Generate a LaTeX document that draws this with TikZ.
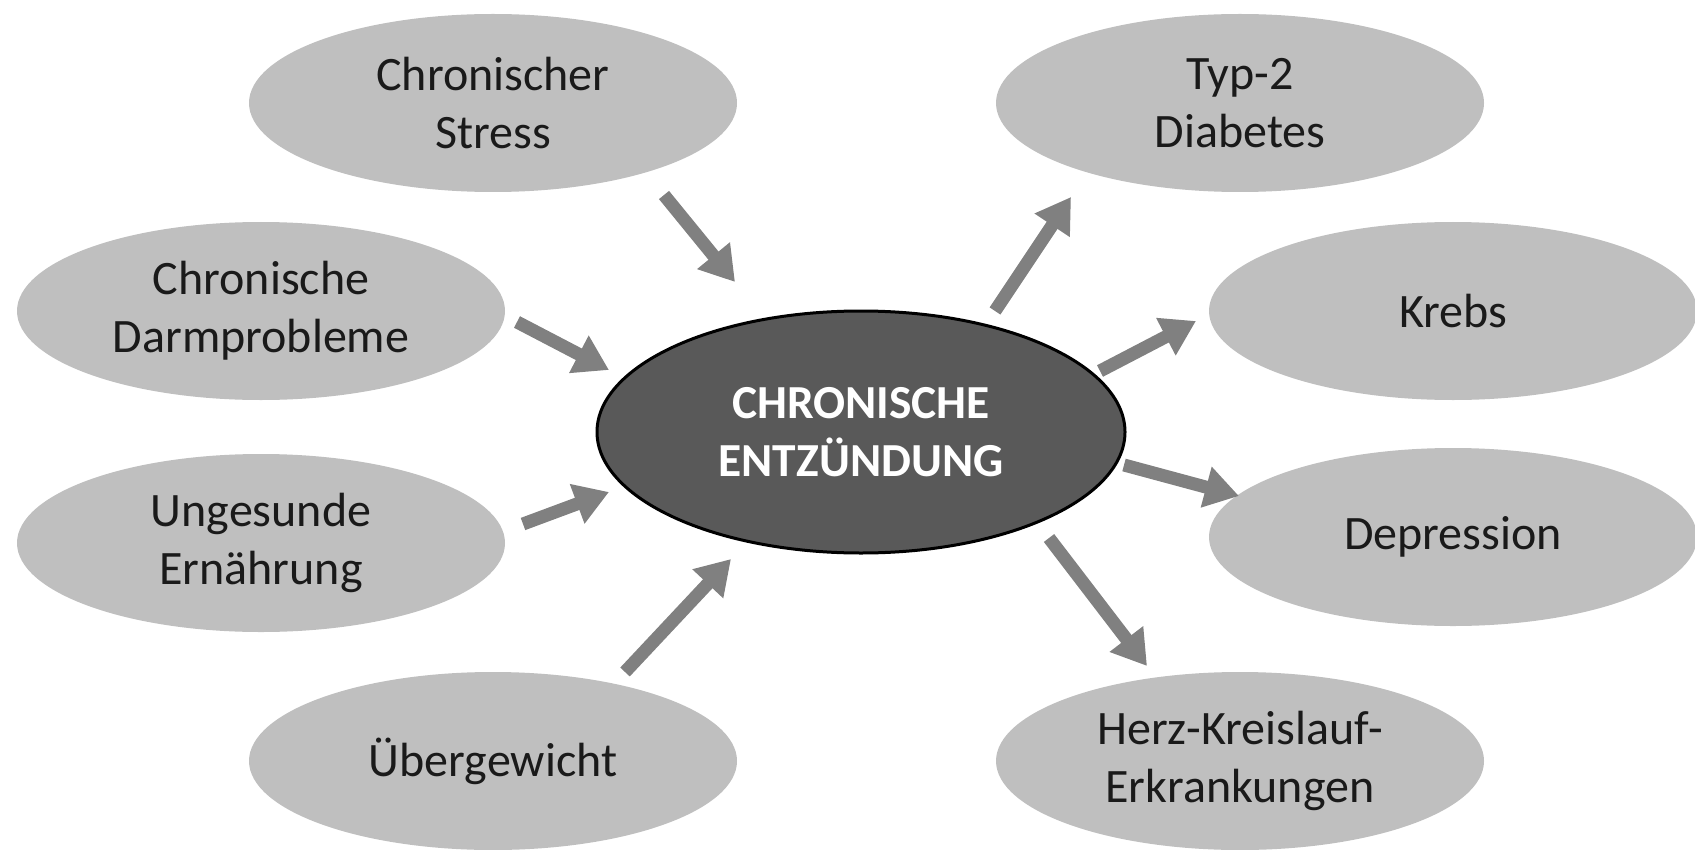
\documentclass[tikz,border=0pt]{standalone}
\usepackage{fontspec}
\setmainfont{Carlito}
\usetikzlibrary{shapes.geometric,arrows.meta}
\definecolor{bubble}{HTML}{BFBFBF}
\definecolor{core}{HTML}{595959}
\definecolor{arrowgray}{HTML}{808080}
\definecolor{txt}{HTML}{1A1A1A}
\tikzset{
  cause/.style={ellipse, fill=bubble, draw=none, minimum width=244pt, minimum height=89pt, inner sep=0pt,
    align=center, text=txt, font=\fontsize{24}{29}\selectfont},
  hub/.style={ellipse, fill=core, draw=black, line width=1.5pt, minimum width=264pt, minimum height=121pt,
    inner sep=0pt, align=center, text=white, font=\fontsize{23.7}{29}\selectfont\bfseries},
  link/.style={draw=arrowgray, line width=6.5pt, -{Triangle[length=17pt,width=20pt]}}
}
\begin{document}
\begin{tikzpicture}[x=0.5pt,y=-0.5pt]
\useasboundingbox (0,0) rectangle (1695,850);
% nodes
\node[hub] (hub) at (861,432) {CHRONISCHE\\ENTZÜNDUNG};
\node[cause] (stress) at (493,103) {Chronischer\\Stress};
\node[cause] (darm) at (261,311) {Chronische\\Darmprobleme};
\node[cause] (ernaehrung) at (261,543) {Ungesunde\\Ernährung};
\node[cause] (gewicht) at (493,761) {Übergewicht};
\node[cause] (diabetes) at (1240,103) {Typ-2\\Diabetes};
\node[cause] (krebs) at (1453,311) {Krebs};
\node[cause] (depression) at (1453,537) {Depression};
\node[cause] (herz) at (1240,761) {Herz-Kreislauf-\\Erkrankungen};
% arrow ends
\coordinate (s1) at (664,195); \coordinate (s2) at (735,282);
\coordinate (d1) at (517,322); \coordinate (d2) at (609,370);
\coordinate (e1) at (523,524); \coordinate (e2) at (609,492);
\coordinate (g1) at (625,672); \coordinate (g2) at (731,559);
\coordinate (t1) at (995,311); \coordinate (t2) at (1071,197);
\coordinate (k1) at (1100,371); \coordinate (k2) at (1196,321);
\coordinate (p1) at (1124,465); \coordinate (p2) at (1239,496);
\coordinate (h1) at (1049,538); \coordinate (h2) at (1147,666);
\draw[link] (s1) -- (s2);
\draw[link] (d1) -- (d2);
\draw[link] (e1) -- (e2);
\draw[link] (g1) -- (g2);
\draw[link] (t1) -- (t2);
\draw[link] (k1) -- (k2);
\draw[link] (p1) -- (p2);
\draw[link] (h1) -- (h2);
\end{tikzpicture}
\end{document}
